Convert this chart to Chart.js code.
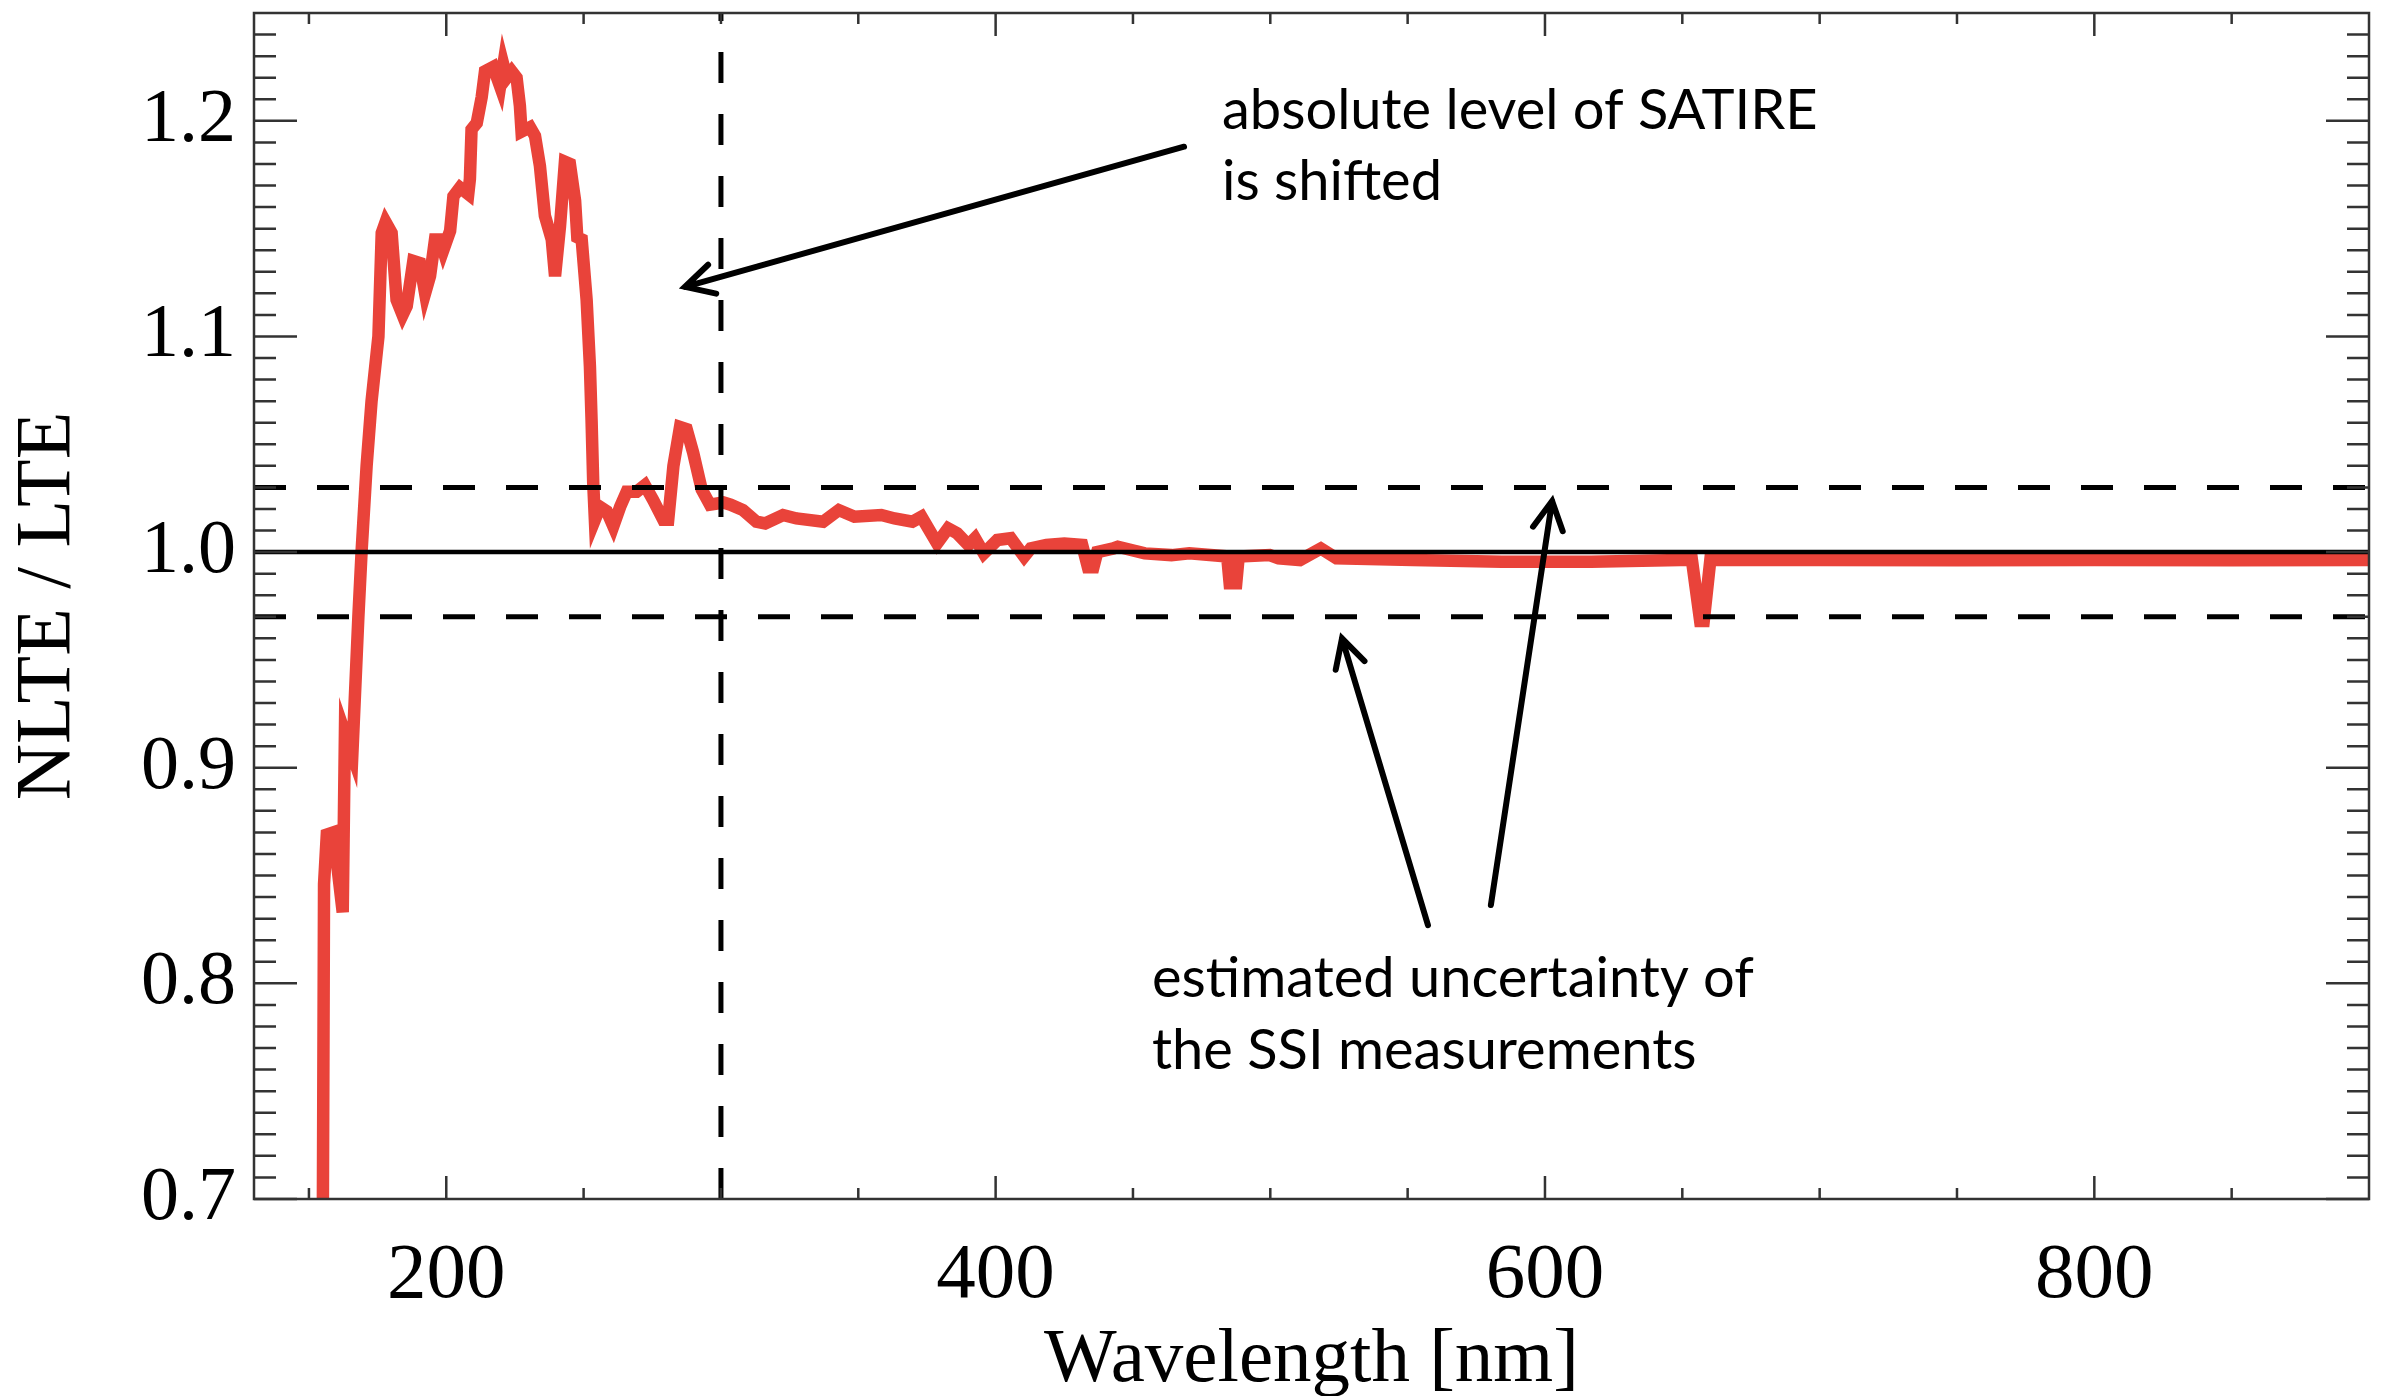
<!DOCTYPE html>
<html>
<head>
<meta charset="utf-8">
<script src="https://cdn.jsdelivr.net/npm/chart.js@4.4.1/dist/chart.umd.min.js"></script>
<style>
html, body { margin: 0; padding: 0; background: #fff; }
#wrap { width: 2389px; height: 1396px; }
</style>
</head>
<body>
<div id="wrap"><canvas id="nlteChart"></canvas></div>
<script>
// wavelength in nm, NLTE/LTE ratio
var wavelength = [
  154.8, 155.5, 156.5, 158.9, 162.3, 163.1, 165.8, 168.0, 169.2, 171.0,
  172.8, 175.3, 176.5, 177.9, 180.1, 181.9, 184.1, 185.6, 188.0, 190.4,
  192.3, 194.1, 195.9, 197.7, 198.9, 201.4, 202.6, 205.0, 208.0, 208.6,
  209.2, 211.1, 212.9, 214.1, 217.1, 219.6, 220.8, 222.0, 223.8, 225.6,
  226.8, 227.4, 230.5, 232.3, 234.1, 235.9, 238.4, 239.6, 241.4, 243.2,
  245.0, 246.9, 247.7, 249.3, 251.1, 252.3, 252.9, 253.5, 254.1, 256.0,
  258.4, 260.8, 263.3, 265.7, 269.3, 272.3, 275.4, 279.0, 280.8, 282.7,
  285.1, 287.5, 289.9, 293.0, 296.0, 300.9, 303.5, 308.0, 312.9, 316.1,
  322.6, 327.5, 337.2, 342.9, 348.6, 358.4, 363.2, 369.7, 373.0, 378.7,
  382.7, 386.0, 390.1, 392.5, 395.7, 400.6, 405.5, 410.4, 412.8, 418.5,
  425.0, 431.5, 433.6, 435.6, 437.0, 442.9, 444.5, 454.3, 464.0, 470.5,
  484.3, 485.2, 487.6, 488.5, 499.8, 503.0, 510.8, 518.4, 524.1, 551.8,
  584.3, 616.8, 649.3, 653.5, 656.5, 657.8, 660.2, 700.0, 750.0, 800.0,
  850.0, 900.0
];
var ratio = [
  0.600, 0.846, 0.869, 0.870, 0.833, 0.916, 0.906, 0.970, 1.001, 1.040,
  1.070, 1.100, 1.148, 1.153, 1.148, 1.117, 1.110, 1.114, 1.135, 1.134,
  1.120, 1.128, 1.145, 1.145, 1.140, 1.149, 1.165, 1.169, 1.166, 1.173,
  1.196, 1.199, 1.211, 1.223, 1.225, 1.216, 1.226, 1.220, 1.223, 1.220,
  1.207, 1.195, 1.197, 1.193, 1.179, 1.156, 1.145, 1.128, 1.151, 1.181,
  1.180, 1.163, 1.146, 1.145, 1.117, 1.086, 1.061, 1.032, 1.015, 1.021,
  1.019, 1.012, 1.021, 1.028, 1.028, 1.031, 1.024, 1.015, 1.015, 1.040,
  1.058, 1.057, 1.046, 1.029, 1.022, 1.023, 1.022, 1.0195, 1.0141, 1.0133,
  1.0172, 1.0156, 1.0141, 1.0195, 1.0164, 1.0172, 1.0156, 1.0141, 1.0164, 1.0040,
  1.0110, 1.0087, 1.0033, 1.0064, 0.9994, 1.0056, 1.0064, 0.9979, 1.0017, 1.0033,
  1.0040, 1.0033, 0.9930, 0.9930, 1.0000, 1.0017, 1.0025, 0.9994, 0.9986, 0.9994,
  0.9980, 0.9855, 0.9855, 0.9980, 0.9986, 0.9971, 0.9963, 1.0017, 0.9971, 0.9963,
  0.9955, 0.9955, 0.9963, 0.9963, 0.9680, 0.9680, 0.9963, 0.9963, 0.9962, 0.9963,
  0.9962, 0.9963
];

var xTickLabels = [200, 400, 600, 800];
var yTickLabels = [0.7, 0.8, 0.9, 1.0, 1.1, 1.2];
var unityLevel = 1.0;
var uncertaintyBand = [0.97, 1.03];
var markerWavelength = 300;

var xRange = [130, 900];
var yRange = [0.7, 1.25];

// annotation texts and arrows, placed in data units
var notes = [
  { lines: ['absolute level of SATIRE', 'is shifted'], x: 482.4, y: [1.1962, 1.1633] },
  { lines: ['estimated uncertainty of', 'the SSI measurements'], x: 456.9, y: [0.7936, 0.7602] }
];
var arrows = [
  { from: [468.6, 1.188], to: [286.9, 1.123] },
  { from: [557.4, 0.827], to: [526.1, 0.960] },
  { from: [580.3, 0.8363], to: [602.6, 1.0237] }
];

var points = wavelength.map(function (w, i) { return { x: w, y: ratio[i] }; });

var frameAndTicks = {
  id: 'frameAndTicks',
  afterDatasetsDraw: function (chart) {
    var ctx = chart.ctx, a = chart.chartArea;
    var xs = chart.scales.x, ys = chart.scales.y;
    ctx.save();
    ctx.strokeStyle = '#333';
    ctx.lineWidth = 2.5;
    ctx.beginPath();
    for (var v = 150; v < xRange[1]; v += 50) {
      var px = xs.getPixelForValue(v);
      var lx = (v % 200 === 0) ? 23 : 11;
      ctx.moveTo(px, a.bottom); ctx.lineTo(px, a.bottom - lx);
      ctx.moveTo(px, a.top); ctx.lineTo(px, a.top + lx);
    }
    for (var i = 70; i < 125; i++) {
      var py = ys.getPixelForValue(i / 100);
      var ly = (i % 10 === 0) ? 43 : 22;
      ctx.moveTo(a.left, py); ctx.lineTo(a.left + ly, py);
      ctx.moveTo(a.right, py); ctx.lineTo(a.right - ly, py);
    }
    ctx.stroke();
    ctx.strokeRect(a.left, a.top, a.right - a.left, a.bottom - a.top);

    // arrows
    ctx.strokeStyle = '#000';
    ctx.lineWidth = 6;
    ctx.lineCap = 'round';
    arrows.forEach(function (ar) {
      var x0 = xs.getPixelForValue(ar.from[0]), y0 = ys.getPixelForValue(ar.from[1]);
      var x1 = xs.getPixelForValue(ar.to[0]), y1 = ys.getPixelForValue(ar.to[1]);
      var ang = Math.atan2(y0 - y1, x0 - x1);
      var head = 32, spread = 28 * Math.PI / 180;
      ctx.beginPath();
      ctx.moveTo(x0, y0); ctx.lineTo(x1, y1);
      ctx.moveTo(x1 + head * Math.cos(ang + spread), y1 + head * Math.sin(ang + spread));
      ctx.lineTo(x1, y1);
      ctx.lineTo(x1 + head * Math.cos(ang - spread), y1 + head * Math.sin(ang - spread));
      ctx.stroke();
    });

    // notes
    ctx.fillStyle = '#000';
    ctx.font = '56px Lato';
    ctx.textAlign = 'left';
    ctx.textBaseline = 'alphabetic';
    notes.forEach(function (n) {
      n.lines.forEach(function (line, k) {
        ctx.fillText(line, xs.getPixelForValue(n.x), ys.getPixelForValue(n.y[k]));
      });
    });
    ctx.restore();
  }
};

var ctx = document.getElementById('nlteChart').getContext('2d');
var nlteChart = new Chart(ctx, {
  type: 'line',
  data: {
    datasets: [{
      label: 'unity',
      data: [{ x: xRange[0], y: unityLevel }, { x: xRange[1], y: unityLevel }],
      borderColor: '#000',
      borderWidth: 4.5,
      pointRadius: 0,
      order: 1
    }, {
      label: 'upper uncertainty',
      data: [{ x: xRange[0], y: uncertaintyBand[1] }, { x: xRange[1], y: uncertaintyBand[1] }],
      borderColor: '#000',
      borderWidth: 5,
      borderDash: [32, 31],
      pointRadius: 0,
      order: 1
    }, {
      label: 'lower uncertainty',
      data: [{ x: xRange[0], y: uncertaintyBand[0] }, { x: xRange[1], y: uncertaintyBand[0] }],
      borderColor: '#000',
      borderWidth: 5,
      borderDash: [32, 31],
      pointRadius: 0,
      order: 1
    }, {
      label: '300 nm',
      data: [{ x: markerWavelength, y: yRange[0] }, { x: markerWavelength, y: yRange[1] }],
      borderColor: '#000',
      borderWidth: 5,
      borderDash: [31, 31],
      pointRadius: 0,
      order: 1
    }, {
      label: 'NLTE / LTE',
      data: points,
      borderColor: '#e9433a',
      borderWidth: 12.5,
      pointRadius: 0,
      tension: 0,
      clip: 0,
      order: 2
    }]
  },
  options: {
    responsive: true,
    maintainAspectRatio: false,
    animation: false,
    layout: { padding: { top: 13, right: 20, left: 0, bottom: 0 } },
    plugins: {
      legend: { display: false },
      tooltip: { enabled: false }
    },
    scales: {
      x: {
        type: 'linear',
        min: xRange[0],
        max: xRange[1],
        grid: { display: false, drawTicks: false },
        border: { display: false },
        afterBuildTicks: function (s) { s.ticks = xTickLabels.map(function (v) { return { value: v }; }); },
        afterFit: function (s) { s.height = 197; s.paddingLeft = 0; s.paddingRight = 0; },
        ticks: {
          padding: 30,
          color: '#000',
          maxRotation: 0,
          font: { family: 'Liberation Serif', size: 79 },
          callback: function (v) { return String(v); }
        },
        title: {
          display: true,
          text: 'Wavelength [nm]',
          color: '#000',
          padding: { top: 0, bottom: 4 },
          font: { family: 'Liberation Serif', size: 77, lineHeight: 0.8 }
        }
      },
      y: {
        type: 'linear',
        min: yRange[0],
        max: yRange[1],
        grid: { display: false, drawTicks: false },
        border: { display: false },
        afterBuildTicks: function (s) { s.ticks = yTickLabels.map(function (v) { return { value: v }; }); },
        afterFit: function (s) { s.width = 254; s.paddingTop = 0; s.paddingBottom = 0; },
        ticks: {
          padding: 18,
          color: '#000',
          font: { family: 'Liberation Serif', size: 76 },
          callback: function (v) { return Number(v).toFixed(1); }
        },
        title: {
          display: true,
          text: 'NLTE / LTE',
          color: '#000',
          padding: { top: 10, bottom: 0 },
          font: { family: 'Liberation Serif', size: 78, lineHeight: 1 }
        }
      }
    }
  },
  plugins: [frameAndTicks]
});
</script>
</body>
</html>
